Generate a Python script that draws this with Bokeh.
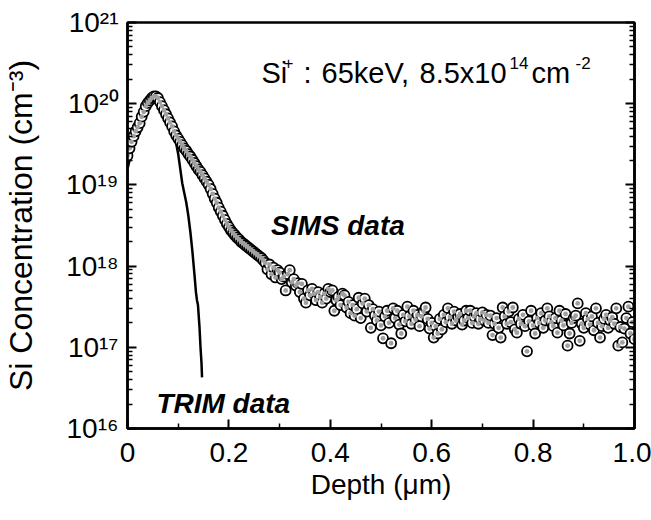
from bokeh.plotting import figure
from bokeh.models import Range1d, FixedTicker, LogAxis, Label, CustomJSTickFormatter
from bokeh.embed import file_html
from bokeh.resources import INLINE

# ---------------- data ----------------
sims_depth = [
    0.000, 0.004, 0.008, 0.012, 0.016, 0.020, 0.024, 0.028, 0.032, 0.036,
    0.040, 0.044, 0.048, 0.052, 0.056, 0.060, 0.064, 0.068, 0.072, 0.076,
    0.080, 0.084, 0.088, 0.092, 0.096, 0.100, 0.104, 0.108, 0.112, 0.116,
    0.120, 0.124, 0.128, 0.132, 0.136, 0.140, 0.144, 0.148, 0.152, 0.156,
    0.160, 0.164, 0.168, 0.172, 0.176, 0.180, 0.184, 0.188, 0.192, 0.196,
    0.200, 0.204, 0.208, 0.212, 0.216, 0.220, 0.224, 0.228, 0.232, 0.236,
    0.240, 0.244, 0.248, 0.252, 0.256, 0.260, 0.264, 0.268, 0.272, 0.276,
    0.280, 0.284, 0.288, 0.292, 0.296, 0.300, 0.304, 0.308, 0.312, 0.316,
    0.320, 0.324, 0.328, 0.332, 0.336, 0.340, 0.344, 0.348, 0.352, 0.356,
    0.360, 0.364, 0.368, 0.372, 0.376, 0.380, 0.384, 0.388, 0.392, 0.396,
    0.400, 0.404, 0.408, 0.412, 0.416, 0.420, 0.424, 0.428, 0.432, 0.436,
    0.440, 0.444, 0.448, 0.452, 0.456, 0.460, 0.464, 0.468, 0.472, 0.476,
    0.480, 0.484, 0.488, 0.492, 0.496, 0.500, 0.504, 0.508, 0.512, 0.516,
    0.520, 0.524, 0.528, 0.532, 0.536, 0.540, 0.544, 0.548, 0.552, 0.556,
    0.560, 0.564, 0.568, 0.572, 0.576, 0.580, 0.584, 0.588, 0.592, 0.596,
    0.600, 0.604, 0.608, 0.612, 0.616, 0.620, 0.624, 0.628, 0.632, 0.636,
    0.640, 0.644, 0.648, 0.652, 0.656, 0.660, 0.664, 0.668, 0.672, 0.676,
    0.680, 0.684, 0.688, 0.692, 0.696, 0.700, 0.704, 0.708, 0.712, 0.716,
    0.720, 0.724, 0.728, 0.732, 0.736, 0.740, 0.744, 0.748, 0.752, 0.756,
    0.760, 0.764, 0.768, 0.772, 0.776, 0.780, 0.784, 0.788, 0.792, 0.796,
    0.800, 0.804, 0.808, 0.812, 0.816, 0.820, 0.824, 0.828, 0.832, 0.836,
    0.840, 0.844, 0.848, 0.852, 0.856, 0.860, 0.864, 0.868, 0.872, 0.876,
    0.880, 0.884, 0.888, 0.892, 0.896, 0.900, 0.904, 0.908, 0.912, 0.916,
    0.920, 0.924, 0.928, 0.932, 0.936, 0.940, 0.944, 0.948, 0.952, 0.956,
    0.960, 0.964, 0.968, 0.972, 0.976, 0.980, 0.984, 0.988, 0.992, 0.996,
    1.000,
]
# log10 of the Si concentration (cm^-3)
sims_log10_conc = [
    19.36, 19.45, 19.53, 19.60, 19.66, 19.71, 19.76, 19.84, 19.90, 19.97,
    20.01, 20.04, 20.07, 20.09, 20.09, 20.07, 20.02, 19.97, 19.92, 19.87,
    19.82, 19.77, 19.72, 19.66, 19.61, 19.57, 19.53, 19.49, 19.45, 19.42,
    19.38, 19.35, 19.31, 19.27, 19.23, 19.19, 19.16, 19.12, 19.08, 19.04,
    19.00, 18.95, 18.89, 18.83, 18.78, 18.72, 18.67, 18.62, 18.57, 18.52,
    18.48, 18.44, 18.41, 18.38, 18.35, 18.33, 18.30, 18.28, 18.26, 18.24,
    18.22, 18.20, 18.18, 18.16, 18.14, 18.12, 18.10, 18.07, 18.04, 17.96,
    18.02, 17.90, 17.98, 17.86, 17.95, 17.92, 17.84, 17.87, 17.70, 17.90,
    17.95, 17.80, 17.84, 17.76, 17.79, 17.68, 17.78, 17.60, 17.55, 17.70,
    17.64, 17.72, 17.66, 17.58, 17.68, 17.62, 17.55, 17.66, 17.60, 17.72,
    17.68, 17.70, 17.45, 17.58, 17.62, 17.52, 17.66, 17.64, 17.49, 17.56,
    17.42, 17.52, 17.39, 17.47, 17.61, 17.36, 17.54, 17.60, 17.44, 17.52,
    17.24, 17.47, 17.39, 17.33, 17.44, 17.27, 17.11, 17.38, 17.45, 17.30,
    17.05, 17.48, 17.36, 17.45, 17.28, 17.17, 17.40, 17.32, 17.50, 17.38,
    17.29, 17.45, 17.34, 17.40, 17.26, 17.38, 17.44, 17.49, 17.35, 17.23,
    17.30, 17.12, 17.26, 17.17, 17.35, 17.22, 17.40, 17.31, 17.48, 17.37,
    17.29, 17.44, 17.33, 17.38, 17.41, 17.28, 17.33, 17.45, 17.36, 17.45,
    17.30, 17.38, 17.42, 17.29, 17.35, 17.43, 17.33, 17.40, 17.30, 17.39,
    17.15, 17.29, 17.36, 17.24, 17.12, 17.49, 17.38, 17.29, 17.44, 17.31,
    17.49, 17.22, 17.18, 17.35, 17.29, 17.40, 17.26, 16.95, 17.32, 17.45,
    17.27, 17.17, 17.36, 17.30, 17.42, 17.24, 17.33, 17.48, 17.38, 17.31,
    17.26, 17.36, 17.18, 17.45, 17.33, 17.27, 17.41, 17.02, 17.17, 17.30,
    17.36, 17.39, 17.54, 17.08, 17.29, 17.24, 17.42, 17.35, 17.28, 17.38,
    17.21, 17.48, 17.30, 17.12, 17.26, 17.35, 17.40, 17.24, 17.33, 17.37,
    17.29, 17.48, 17.02, 17.25, 17.06, 17.23, 17.36, 17.50, 17.17, 17.31,
    17.10,
]
trim_depth = [0.000, 0.010, 0.020, 0.030, 0.040, 0.050, 0.060, 0.070, 0.080,
              0.090, 0.096, 0.100, 0.104, 0.108, 0.112, 0.116, 0.120, 0.124,
              0.128, 0.132, 0.135, 0.137, 0.139, 0.142, 0.144, 0.146, 0.147]
trim_log10_conc = [19.20, 19.45, 19.65, 19.82, 19.95, 20.02, 20.03, 19.97, 19.84,
                   19.66, 19.51, 19.38, 19.20, 19.02, 18.90, 18.78, 18.62, 18.42,
                   18.18, 17.90, 17.68, 17.58, 17.52, 17.25, 17.00, 16.80, 16.63]

x_ticks = [0.0, 0.2, 0.4, 0.6, 0.8, 1.0]
x_tick_labels = ["0", "0.2", "0.4", "0.6", "0.8", "1.0"]
x_minor_ticks = [0.1, 0.3, 0.5, 0.7, 0.9]
y_exponents = [16, 17, 18, 19, 20, 21]

sims_conc = [10 ** v for v in sims_log10_conc]
trim_conc = [10 ** v for v in trim_log10_conc]

FONT = "Liberation Sans"

p = figure(width=651, height=520, output_backend="svg", toolbar_location=None,
           x_range=Range1d(0, 1.0), y_range=Range1d(1e16, 1e21), y_axis_type="log",
           min_border_left=126, min_border_right=17, min_border_top=22,
           min_border_bottom=92)
p.grid.visible = False
p.background_fill_color = "white"
p.border_fill_color = "white"
p.outline_line_color = "black"
p.outline_line_width = 2.5

p.line(trim_depth, trim_conc, line_color="black", line_width=2.5)
p.scatter(sims_depth, sims_conc, size=10, fill_color="white",
          line_color="black", line_width=1.8)
p.scatter(sims_depth, sims_conc, size=4.8, fill_color="#a0a0a0", line_color=None)

# x axis
xa = p.xaxis[0]
xa.ticker = FixedTicker(ticks=x_ticks, minor_ticks=x_minor_ticks)
xa.formatter = CustomJSTickFormatter(args=dict(tvals=x_ticks, tlabels=x_tick_labels), code="""
for (let i = 0; i < tvals.length; i++) { if (Math.abs(tvals[i] - tick) < 1e-9) return tlabels[i]; }
return "";
""")
xa.axis_label = "Depth (\u03bcm)"
xa.axis_label_text_font = FONT
xa.axis_label_text_font_size = "28px"
xa.axis_label_text_font_style = "normal"
xa.axis_label_text_color = "black"
xa.axis_label_standoff = 4
xa.major_label_text_font = FONT
xa.major_label_text_font_size = "28px"
xa.major_label_standoff = 14

# y axis: "10" with a superscript exponent
major_y = [10.0 ** e for e in y_exponents]
minor_y = [k * 10.0 ** e for e in y_exponents[:-1] for k in range(2, 10)]
ya = p.yaxis[0]
ya.ticker = FixedTicker(ticks=major_y, minor_ticks=minor_y)
ya.formatter = CustomJSTickFormatter(args=dict(exps=y_exponents), code="""
const sup = {"0": "\u2070", "1": "\u00b9", "2": "\u00b2", "3": "\u00b3", "4": "\u2074",
             "5": "\u2075", "6": "\u2076", "7": "\u2077", "8": "\u2078", "9": "\u2079"};
const e = Math.round(Math.log10(tick));
if (!exps.includes(e)) return "";
return "10" + String(e).split("").map(c => sup[c]).join("");
""")
ya.major_label_text_font = FONT
ya.major_label_text_font_size = "28px"
ya.major_label_standoff = 9
ya.axis_label = "Si Concentration (cm\u207b\u00b3)"
ya.axis_label_text_font = FONT
ya.axis_label_text_font_size = "32px"
ya.axis_label_text_font_style = "normal"
ya.axis_label_text_color = "black"
ya.axis_label_standoff = 24

ra = LogAxis(ticker=FixedTicker(ticks=major_y, minor_ticks=minor_y),
             formatter=CustomJSTickFormatter(code="return '';"))
p.add_layout(ra, "right")

for ax in (xa, ya, ra):
    ax.axis_line_width = 2.5
    ax.major_tick_in = 9
    ax.major_tick_out = 0
    ax.minor_tick_in = 5
    ax.minor_tick_out = 0
    ax.major_tick_line_width = 2
    ax.minor_tick_line_width = 1.5
    ax.major_label_text_color = "black"

# annotation at top (anchored at top-left corner of the frame)
pieces = [
    ("Si", 134, -50, "29px"),
    ("+", 156, -40, "17px"),
    (":", 176, -50, "29px"),
    ("65keV,", 194, -50, "29px"),
    ("8.5x10", 292, -50, "29px"),
    ("14", 382, -40, "17px"),
    ("cm", 404, -50, "29px"),
    ("-2", 448, -40, "17px"),
]
for txt, dx, dy, fs in pieces:
    p.add_layout(Label(x=0, y=1e21, x_offset=dx, y_offset=dy, text=txt,
                       text_align="left", text_baseline="alphabetic",
                       text_font=FONT, text_font_size=fs, text_color="black"))

p.add_layout(Label(x=0.283, y=10 ** 18.50, text="SIMS data", text_font=FONT,
                   text_font_size="28px", text_font_style="bold italic",
                   text_baseline="alphabetic", text_color="black"))
p.add_layout(Label(x=0.057, y=10 ** 16.31, text="TRIM data", text_font=FONT,
                   text_font_size="28px", text_font_style="bold italic",
                   text_baseline="alphabetic", text_color="black"))

open("out.html", "w").write(file_html(p, INLINE))
